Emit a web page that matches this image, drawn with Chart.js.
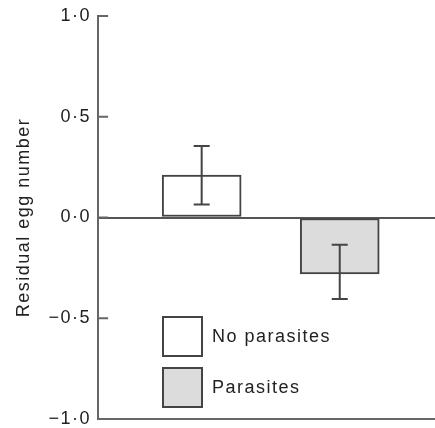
<!DOCTYPE html>
<html>
<head>
<meta charset="utf-8">
<script src="https://cdn.jsdelivr.net/npm/chart.js"></script>
<style>
  html, body { margin: 0; padding: 0; background: #fff; }
  #wrap { width: 435px; height: 428px; }
</style>
</head>
<body>
<div id="wrap"><canvas id="chart"></canvas></div>
<script>
// === DATOS ===
const categorias = ['No parasites', 'Parasites'];
const posiciones = [1, 2];
const valores = [0.21, -0.28];
const errorBajo = [0.065, -0.405];
const errorAlto = [0.355, -0.135];
const colores = ['#ffffff', '#dcdcdc'];
const ticksY = [-1, -0.5, 0, 0.5, 1];
const tituloY = 'Residual egg number';

const FUENTE = '"Liberation Sans", Arial, Helvetica, sans-serif';
const TAM = 18;
const TRACKING = '1.5px';
const GRIS = '#555';

// formato "0·5" con signo menos tipográfico
function formatoTick(v) {
  const s = Math.abs(v).toFixed(1).replace('.', '\u00b7');
  return (v < 0 ? '\u2212' : '') + s;
}

// espaciado de letras (el original tiene un tracking amplio)
const espaciado = {
  id: 'espaciado',
  beforeLayout(chart) { chart.ctx.letterSpacing = TRACKING; },
  beforeDraw(chart) { chart.ctx.letterSpacing = TRACKING; }
};

// marcas del eje Y hacia dentro + barras de error
const marcasYErrores = {
  id: 'marcasYErrores',
  afterDatasetsDraw(chart) {
    const { ctx, scales: { x, y } } = chart;
    ctx.save();
    ctx.strokeStyle = '#666';
    ctx.lineWidth = 2;
    ctx.beginPath();
    ticksY.forEach(v => {
      const py = y.getPixelForValue(v);
      ctx.moveTo(y.right, py); ctx.lineTo(y.right + 10, py);
    });
    ctx.stroke();

    ctx.strokeStyle = '#444';
    posiciones.forEach((p, i) => {
      const px = x.getPixelForValue(p);
      const lo = y.getPixelForValue(errorBajo[i]);
      const hi = y.getPixelForValue(errorAlto[i]);
      ctx.beginPath();
      ctx.moveTo(px, lo); ctx.lineTo(px, hi);
      ctx.moveTo(px - 8, lo); ctx.lineTo(px + 8, lo);
      ctx.moveTo(px - 8, hi); ctx.lineTo(px + 8, hi);
      ctx.stroke();
    });
    ctx.restore();
  }
};

// leyenda dentro del área del gráfico
const leyenda = {
  id: 'leyenda',
  afterDraw(chart) {
    const { ctx } = chart;
    const ds = chart.data.datasets[0];
    ctx.save();
    ctx.letterSpacing = TRACKING;
    ctx.font = TAM + 'px ' + FUENTE;
    ctx.textBaseline = 'middle';
    categorias.forEach((c, i) => {
      const bx = 163, by = 317 + i * 51, s = 39;
      ctx.fillStyle = ds.backgroundColor[i];
      ctx.fillRect(bx, by, s, s);
      ctx.strokeStyle = '#444';
      ctx.lineWidth = 2;
      ctx.strokeRect(bx, by, s, s);
      ctx.fillStyle = '#222';
      ctx.fillText(c, bx + 49, by + s / 2 + 1);
    });
    ctx.restore();
  }
};

new Chart(document.getElementById('chart'), {
  type: 'bar',
  data: {
    labels: categorias,
    datasets: [{
      data: posiciones.map((p, i) => ({ x: p, y: valores[i] })),
      backgroundColor: colores,
      borderColor: '#444',
      borderWidth: 2,
      borderSkipped: false,
      barThickness: 79
    }]
  },
  options: {
    responsive: true,
    maintainAspectRatio: false,
    animation: false,
    layout: { padding: { top: 16, right: 0, bottom: 0, left: 13 } },
    plugins: { legend: { display: false }, tooltip: { enabled: false } },
    scales: {
      x: {
        type: 'linear',
        offset: false,
        min: 0.25,
        max: 2.69,
        ticks: { display: false },
        grid: { display: false, drawTicks: false },
        border: { display: true, color: '#666', width: 2 }
      },
      y: {
        min: -1,
        max: 1,
        afterBuildTicks: axis => { axis.ticks = ticksY.map(v => ({ value: v })); },
        ticks: {
          callback: v => formatoTick(v),
          color: '#222',
          font: { family: FUENTE, size: TAM, lineHeight: 1 },
          padding: 0
        },
        grid: {
          color: ctx => (ctx.tick && ctx.tick.value === 0 ? GRIS : 'rgba(0,0,0,0)'),
          lineWidth: 2,
          drawTicks: true,
          tickLength: 7,
          tickColor: 'rgba(0,0,0,0)'
        },
        border: { display: true, color: '#666', width: 2 },
        title: {
          display: true,
          text: tituloY,
          color: '#222',
          font: { family: FUENTE, size: TAM },
          padding: { top: 0, bottom: 14 }
        }
      }
    }
  },
  plugins: [espaciado, marcasYErrores, leyenda]
});
</script>
</body>
</html>
